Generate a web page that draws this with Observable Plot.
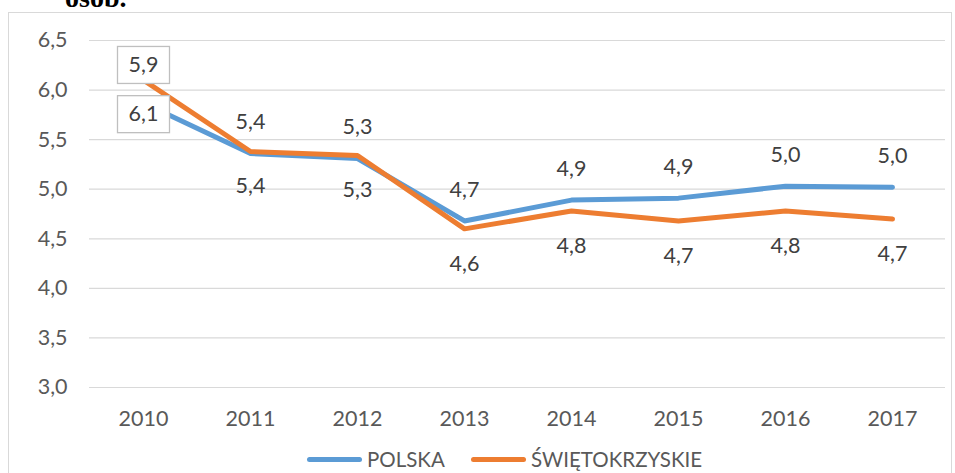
<!DOCTYPE html>
<html>
<head>
<meta charset="utf-8">
<script src="https://cdn.jsdelivr.net/npm/d3@7"></script>
<script src="https://cdn.jsdelivr.net/npm/@observablehq/plot@0.6"></script>
<style>
  body { margin: 0; background: #fff; }
  #wrap { position: relative; width: 955px; height: 473px; overflow: hidden; background: #fff; font-family: Lato, "Open Sans", sans-serif; }
  #title { position: absolute; left: 65px; top: -16px; font-family: "Liberation Serif", "DejaVu Serif", serif; font-weight: bold; font-size: 28px; line-height: 28px; color: #000; white-space: nowrap; }
  #frame { position: absolute; left: 8px; top: 12px; width: 944px; height: 470px; border: 1px solid #d9d9d9; box-sizing: border-box; pointer-events: none; }
  #chart { position: absolute; left: 0; top: 0; }
  #legend { position: absolute; left: 0; top: 446px; width: 955px; height: 26px; }
  .item { position: absolute; top: 0; height: 26px; display: flex; align-items: center; font-size: 20.5px; color: #595959; }
  .sw { width: 55px; height: 5px; border-radius: 3px; margin-right: 5px; }
</style>
</head>
<body>
<div id="wrap">
  <div id="title">osób.</div>
  <div id="frame"></div>
  <div id="chart"></div>
  <div id="legend"></div>
</div>
<script>
const years = ["2010","2011","2012","2013","2014","2015","2016","2017"];
const polska = [5.87, 5.36, 5.31, 4.68, 4.89, 4.91, 5.03, 5.02];
const swietokrzyskie = [6.1, 5.38, 5.34, 4.6, 4.78, 4.68, 4.78, 4.70];
const seriesNames = ["POLSKA", "ŚWIĘTOKRZYSKIE"];
const colors = ["#5B9BD5", "#ED7D31"];
const yTicks = [3.0, 3.5, 4.0, 4.5, 5.0, 5.5, 6.0, 6.5];

const fmt = v => d3.format(".1f")(v).replace(".", ",");

const rowsP = years.map((y, i) => ({year: y, value: polska[i], series: seriesNames[0]}));
const rowsS = years.map((y, i) => ({year: y, value: swietokrzyskie[i], series: seriesNames[1]}));

// draws a white box with grey border behind each label (group is already shifted by dy)
function boxed(index, scales, values, dimensions, context, next) {
  const g = next(index, scales, values, dimensions, context);
  const ns = "http://www.w3.org/2000/svg";
  for (const i of index) {
    const cx = values.x[i];
    const cy = values.y[i];
    const r = document.createElementNS(ns, "rect");
    r.setAttribute("x", cx - 26);
    r.setAttribute("y", cy - 18.5);
    r.setAttribute("width", 52);
    r.setAttribute("height", 37);
    r.setAttribute("fill", "#fff");
    r.setAttribute("stroke", "#bfbfbf");
    r.setAttribute("stroke-width", 1.3);
    g.insertBefore(r, g.firstChild);
  }
  return g;
}

const first = d => d.year === years[0];
const notFirst = d => d.year !== years[0];

const chart = Plot.plot({
  width: 955,
  height: 473,
  marginLeft: 89,
  marginRight: 10,
  marginTop: 40,
  marginBottom: 86,
  style: {fontFamily: "Lato, 'Open Sans', sans-serif", fontSize: "21.5px", color: "#595959", background: "transparent"},
  x: {type: "point", domain: years, padding: 0.5, label: null},
  y: {domain: [3, 6.5], label: null},
  marks: [
    Plot.gridY(yTicks, {stroke: "#d9d9d9", strokeOpacity: 1, strokeWidth: 1.2}),
    Plot.axisY(yTicks, {tickSize: 0, tickPadding: 22, tickFormat: fmt, label: null, fill: "#595959"}),
    Plot.axisX({tickSize: 0, tickPadding: 23, label: null, fill: "#595959"}),
    Plot.line(rowsP, {x: "year", y: "value", stroke: colors[0], strokeWidth: 5, strokeLinejoin: "round", strokeLinecap: "round"}),
    Plot.line(rowsS, {x: "year", y: "value", stroke: colors[1], strokeWidth: 5, strokeLinejoin: "round", strokeLinecap: "round"}),
    Plot.text(rowsP.filter(notFirst), {x: "year", y: "value", text: d => fmt(d.value), dy: -31, fill: "#404040"}),
    Plot.text(rowsS.filter(notFirst), {x: "year", y: "value", text: d => fmt(d.value), dy: 35, fill: "#404040"}),
    Plot.text(rowsP.filter(first), {x: "year", y: "value", text: d => fmt(d.value), dy: -38, fill: "#404040", render: boxed}),
    Plot.text(rowsS.filter(first), {x: "year", y: "value", text: d => fmt(d.value), dy: 34, fill: "#404040", render: boxed})
  ]
});
document.getElementById("chart").appendChild(chart);

const legend = document.getElementById("legend");
const lefts = [307, 471];
seriesNames.forEach((name, i) => {
  const it = document.createElement("div");
  it.className = "item";
  it.style.left = lefts[i] + "px";
  const sw = document.createElement("div");
  sw.className = "sw";
  sw.style.background = colors[i];
  it.appendChild(sw);
  const t = document.createElement("span");
  t.textContent = name;
  it.appendChild(t);
  legend.appendChild(it);
});
</script>
</body>
</html>
